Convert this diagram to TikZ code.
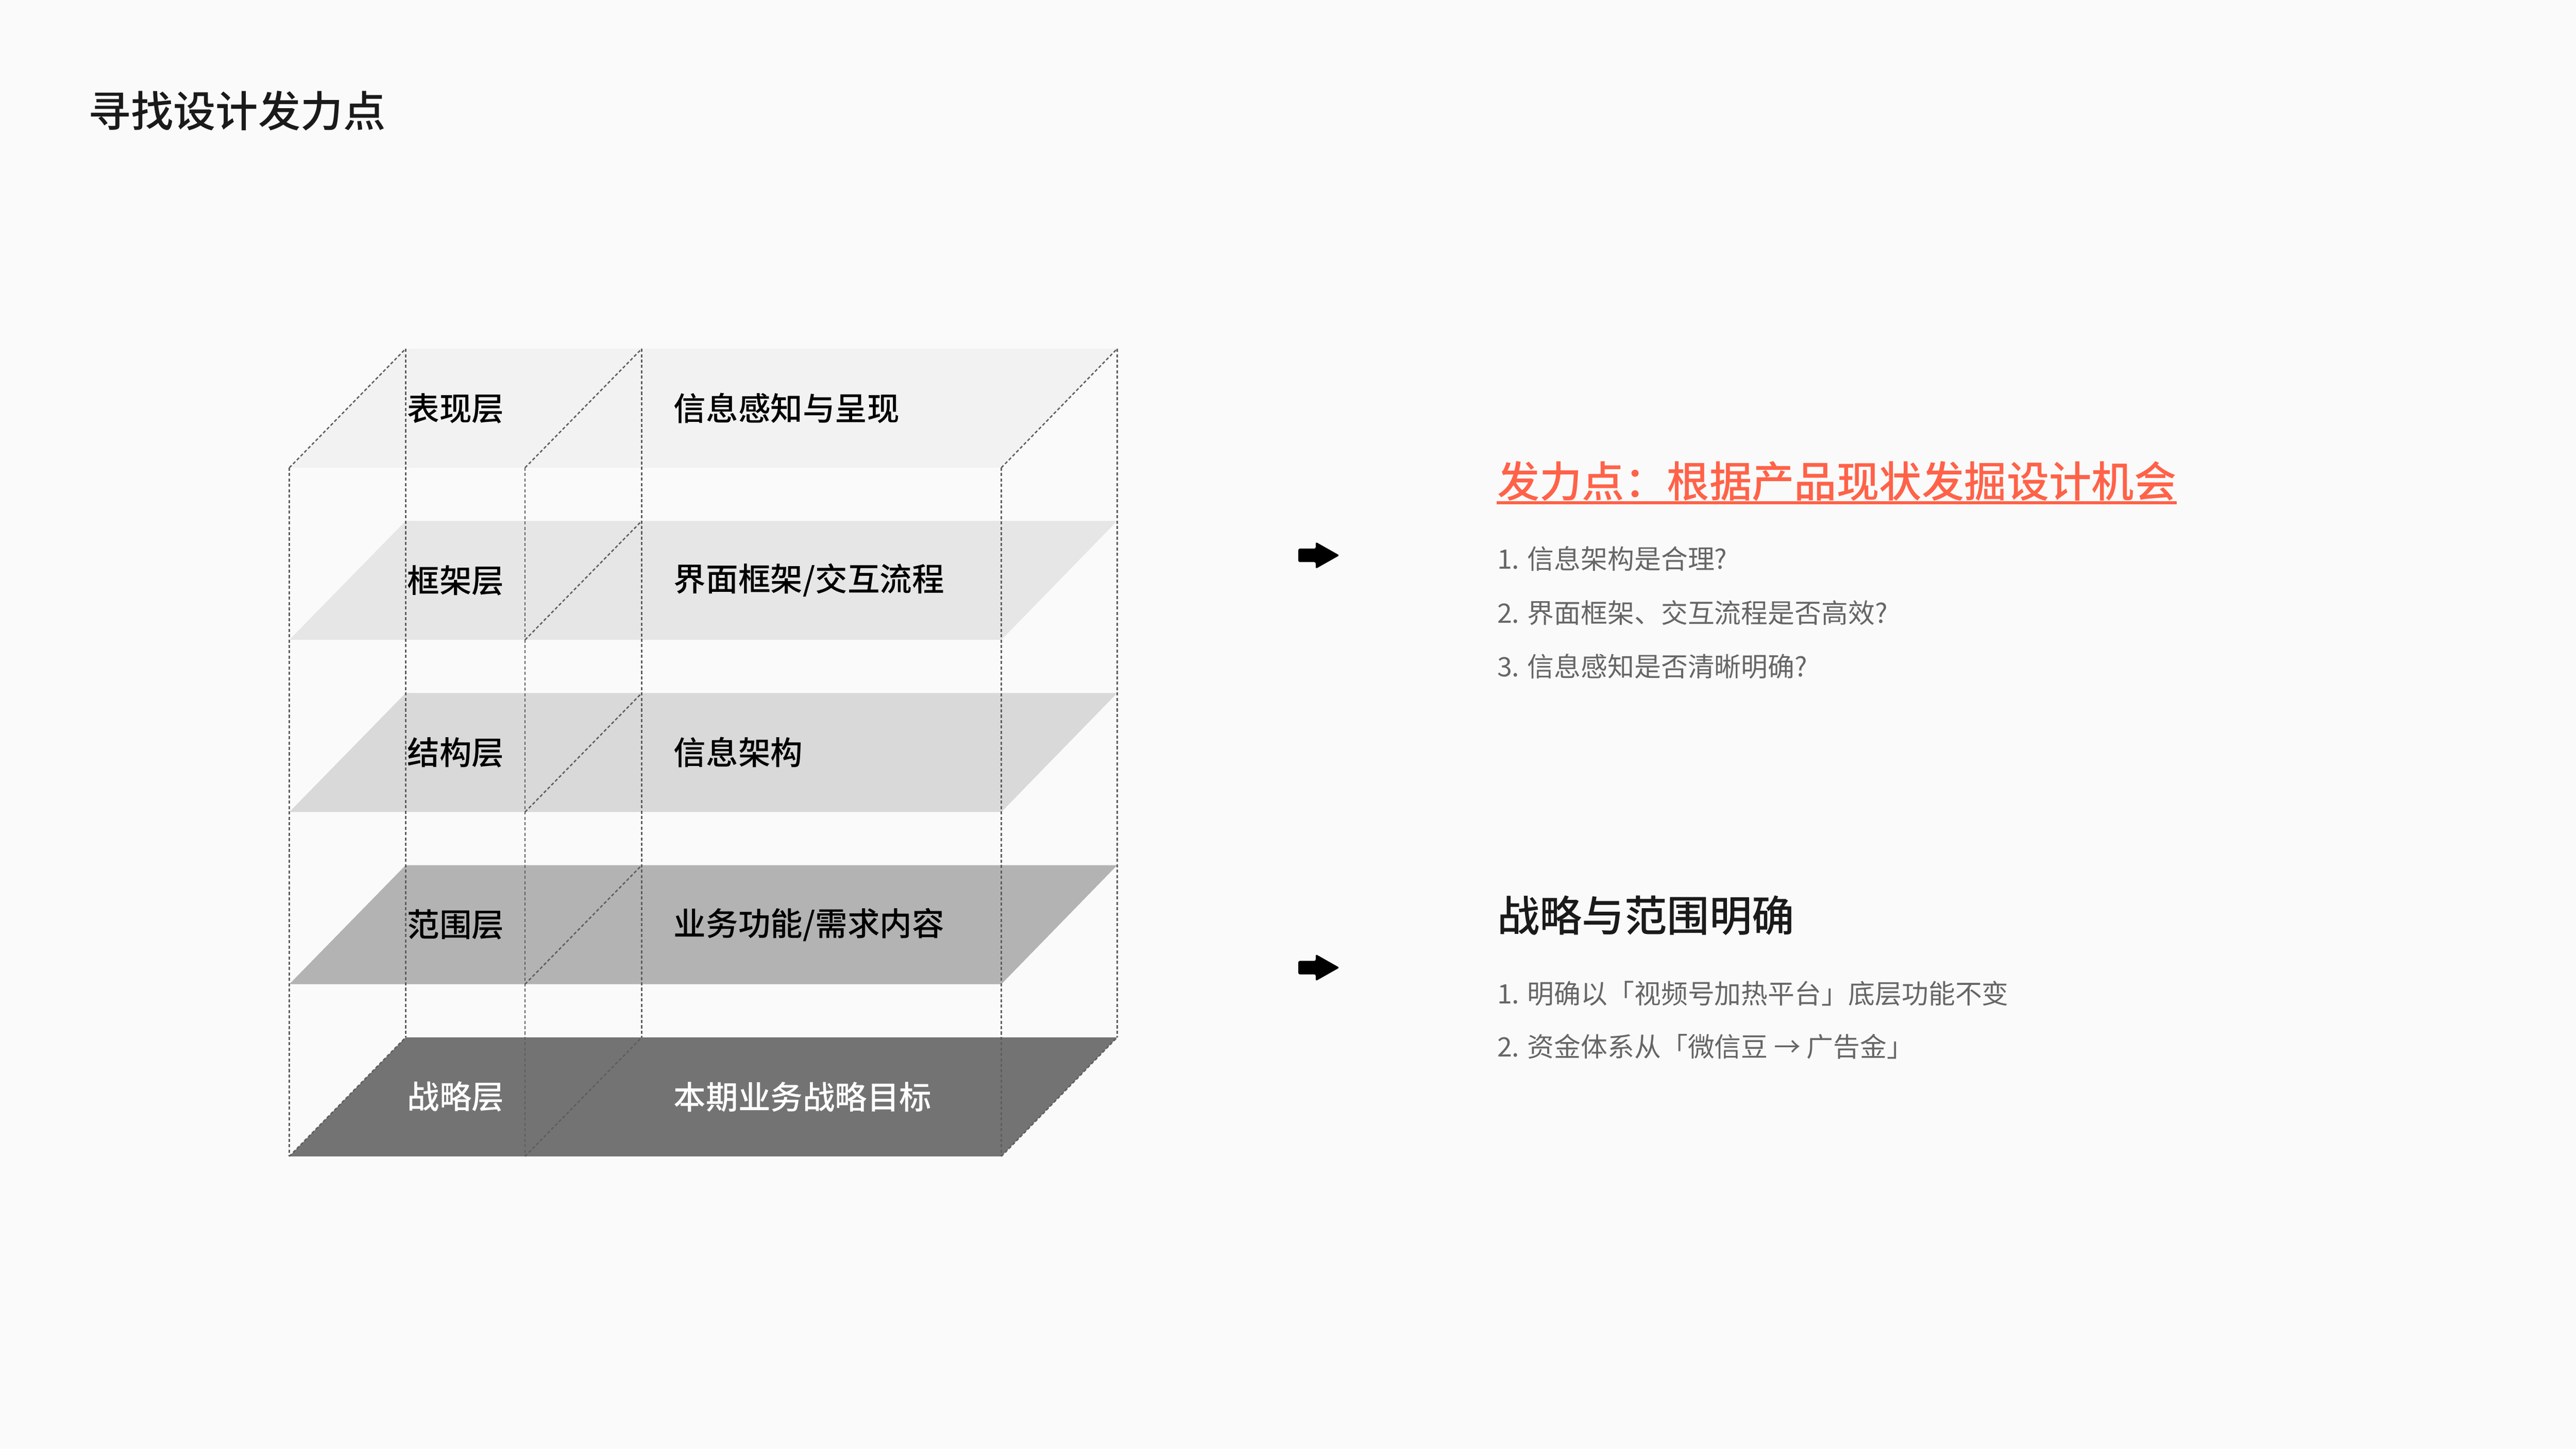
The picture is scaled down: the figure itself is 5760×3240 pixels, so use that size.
\documentclass[tikz,border=0pt]{standalone}
\usepackage{fontspec}
\setmainfont{Noto Sans CJK SC}[BoldFont={Noto Sans CJK SC Medium}]
\usepackage{tikz}

\definecolor{bg}{HTML}{FAFAFA}
\definecolor{layerA}{HTML}{F2F2F2}
\definecolor{layerB}{HTML}{E6E6E6}
\definecolor{layerC}{HTML}{D9D9D9}
\definecolor{layerD}{HTML}{B3B3B3}
\definecolor{layerE}{HTML}{737373}
\definecolor{wiregray}{HTML}{5E5E5E}
\definecolor{accent}{HTML}{FF6248}
\definecolor{ink}{HTML}{1A1A1A}
\definecolor{note}{HTML}{666666}

\tikzset{
  wire/.style={draw=wiregray, line width=0.03cm, dash pattern=on 0.07cm off 0.05cm},
  layername/.style={anchor=west, inner sep=0pt, font=\fontsize{20.5pt}{24pt}\selectfont\bfseries},
  layertext/.style={layername},
  pagetitle/.style={anchor=west, inner sep=0pt, text=ink, font=\fontsize{27pt}{32pt}\selectfont\bfseries},
  itemtext/.style={anchor=west, inner sep=0pt, text=note, font=\fontsize{17pt}{20pt}\selectfont}
}

\begin{document}
\begin{tikzpicture}[x=0.01cm, y=-0.01cm]
  \fill [bg] (0, 0) rectangle (5760, 3240);
  \useasboundingbox (0, 0) rectangle (5760, 3240);

  \node [pagetitle] (title) at (197, 248) {寻找设计发力点};

  % Layers
  \fill [layerA] (647, 1046) -- (907, 780) -- (2498, 780) -- (2239, 1046) -- cycle;
  \fill [layerB] (647, 1431) -- (907, 1165) -- (2498, 1165) -- (2239, 1431) -- cycle;
  \fill [layerC] (647, 1816) -- (907, 1550) -- (2498, 1550) -- (2239, 1816) -- cycle;
  \fill [layerD] (647, 2201) -- (907, 1935) -- (2498, 1935) -- (2239, 2201) -- cycle;
  \fill [layerE] (647, 2586) -- (907, 2320) -- (2498, 2320) -- (2239, 2586) -- cycle;

  % Wire box
  \draw [wire] (907, 780) -- (907, 2320);
  \draw [wire] (1435, 780) -- (1435, 2320);
  \draw [wire] (2498, 780) -- (2498, 2320);
  \draw [wire] (647, 1046) -- (647, 2586);
  \draw [wire] (1174, 1046) -- (1174, 2586);
  \draw [wire] (2239, 1046) -- (2239, 2586);
  \draw [wire] (647, 1046) -- (907, 780);
  \draw [wire] (2239, 1046) -- (2498, 780);
  \draw [wire] (647, 2586) -- (907, 2320);
  \draw [wire] (2239, 2586) -- (2498, 2320);
  \draw [wire] (1174, 1046) -- (1435, 780);
  \draw [wire] (1174, 1431) -- (1435, 1165);
  \draw [wire] (1174, 1816) -- (1435, 1550);
  \draw [wire] (1174, 2201) -- (1435, 1935);
  \draw [wire] (1174, 2586) -- (1435, 2320);

  \node [layername] (nameA) at (910, 913) {表现层};
  \node [layertext] (textA) at (1506, 913) {信息感知与呈现};
  \node [layername] (nameB) at (910, 1298) {框架层};
  \node [layertext] (textB) at (1506, 1298) {界面框架/交互流程};
  \node [layername] (nameC) at (910, 1683) {结构层};
  \node [layertext] (textC) at (1506, 1683) {信息架构};
  \node [layername] (nameD) at (910, 2068) {范围层};
  \node [layertext] (textD) at (1506, 2068) {业务功能/需求内容};
  \node [layername, text=white] (nameE) at (910, 2453) {战略层};
  \node [layertext, text=white] (textE) at (1506, 2453) {本期业务战略目标};

  % Arrows
  \fill [black, rounded corners=1pt, shift={(2949, 1242)}] (-46, -15) -- (-7, -15) --
    (-7, -30) -- (46, 0) -- (-7, 30) -- (-7, 15) -- (-46, 15) -- cycle;
  \fill [black, rounded corners=1pt, shift={(2949, 2164)}] (-46, -15) -- (-7, -15) --
    (-7, -30) -- (46, 0) -- (-7, 30) -- (-7, 15) -- (-46, 15) -- cycle;

  % Right notes
  \node [pagetitle, text=accent] (headA) at (3347, 1076) {发力点：根据产品现状发掘设计机会};
  \draw [accent, line width=0.07cm] ([yshift=-0.03cm]headA.south west) -- ([yshift=-0.03cm]headA.south east);
  \node [itemtext] (itemA1) at (3347, 1249) {1. 信息架构是合理?};
  \node [itemtext] (itemA2) at (3347, 1370) {2. 界面框架、交互流程是否高效?};
  \node [itemtext] (itemA3) at (3347, 1490) {3. 信息感知是否清晰明确?};

  \node [pagetitle] (headB) at (3347, 2048) {战略与范围明确};
  \node [itemtext] (itemB1) at (3347, 2222) {1. 明确以「视频号加热平台」底层功能不变};
  \node [itemtext] (itemB2) at (3347, 2341) {2. 资金体系从「微信豆 → 广告金」};
\end{tikzpicture}
\end{document}
